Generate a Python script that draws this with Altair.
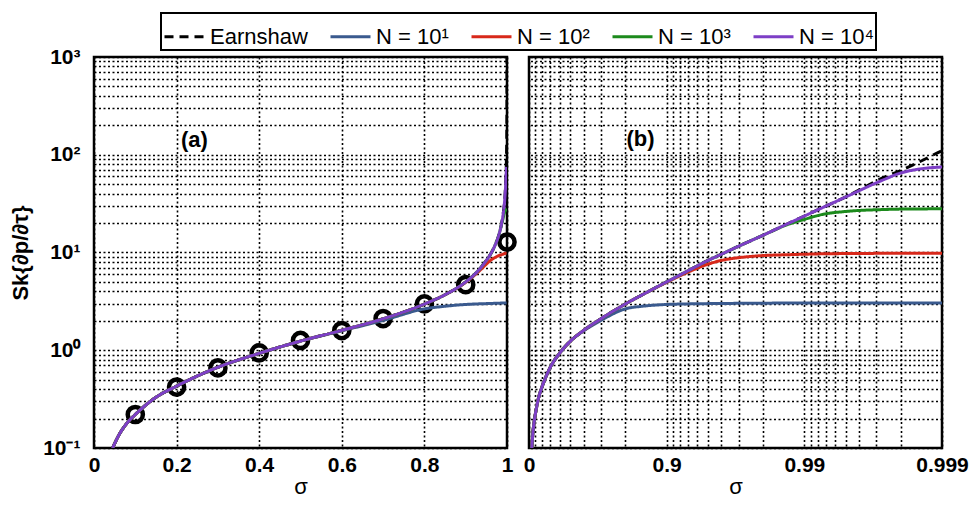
import altair as alt
import pandas as pd

# ---------------- data ----------------
series_names = ["Earnshaw", "N = 10¹", "N = 10²", "N = 10³", "N = 10⁴"]
series_colors = ["#000000", "#3a5a8e", "#d8281a", "#1c8a1c", "#7d3fc6"]

sigma_e = [0.045, 0.06, 0.08, 0.1, 0.15, 0.2, 0.3, 0.4, 0.5, 0.6, 0.7, 0.8, 0.85, 0.9,
           0.93, 0.95, 0.96, 0.97, 0.98, 0.987, 0.99, 0.9926, 0.995, 0.9973, 0.998,
           0.9985, 0.999, 0.9995, 0.9999, 0.99999]
earnshaw = [0.1, 0.135, 0.18, 0.22, 0.33, 0.43, 0.67, 0.93, 1.24, 1.6, 2.1, 2.97, 3.7, 5.0,
            6.5, 8.3, 9.6, 11.6, 15.0, 19.9, 23.6, 28.7, 37, 58, 69,
            83, 110, 160, 360, 1150]

sigma_n = [0.045, 0.06, 0.08, 0.1, 0.15, 0.2, 0.3, 0.4, 0.5, 0.6, 0.7, 0.8, 0.85, 0.9,
           0.93, 0.95, 0.96, 0.97, 0.98, 0.987, 0.99, 0.9926, 0.995, 0.9973, 0.998,
           0.9985, 0.999]
n1 = [0.1, 0.135, 0.18, 0.22, 0.33, 0.43, 0.67, 0.93, 1.24, 1.58, 2.02, 2.65, 2.82, 2.94,
      2.98, 3.0, 3.01, 3.02, 3.03, 3.04, 3.04, 3.04, 3.04, 3.04, 3.04,
      3.04, 3.04]
n2 = [0.1, 0.135, 0.18, 0.22, 0.33, 0.43, 0.67, 0.93, 1.24, 1.6, 2.1, 2.97, 3.7, 4.95,
      6.3, 7.6, 8.3, 8.85, 9.3, 9.5, 9.6, 9.7, 9.75, 9.8, 9.8,
      9.8, 9.8]
n3 = [0.1, 0.135, 0.18, 0.22, 0.33, 0.43, 0.67, 0.93, 1.24, 1.6, 2.1, 2.97, 3.7, 5.0,
      6.5, 8.3, 9.6, 11.6, 15.0, 19.5, 21.8, 24.5, 26.3, 27.5, 27.8,
      27.9, 28.0]
n4 = [0.1, 0.135, 0.18, 0.22, 0.33, 0.43, 0.67, 0.93, 1.24, 1.6, 2.1, 2.97, 3.7, 5.0,
      6.5, 8.3, 9.6, 11.6, 15.0, 19.9, 23.6, 28.7, 37, 55, 65,
      71, 75]

marker_sigma = [0.1, 0.2, 0.3, 0.4, 0.5, 0.6, 0.7, 0.8, 0.9, 1.0]
marker_value = [0.22, 0.42, 0.66, 0.94, 1.26, 1.59, 2.11, 2.98, 4.69, 12.8]

panel_labels = ["(a)", "(b)"]
label_sigma = [0.243, 0.845]
label_value = [142, 145]

y_tick_values = [m * 10.0 ** k for k in range(-1, 3) for m in range(1, 10)] + [1000.0]
ax_tick_values = [0, 0.2, 0.4, 0.6, 0.8, 1.0]
bx_tick_values = [1.0] + [m * 10.0 ** -k for k in range(1, 4) for m in range(9, 0, -1)]

# ---------------- build tables ----------------
rows = []
for name, sig, vals in [(series_names[0], sigma_e, earnshaw),
                        (series_names[1], sigma_n, n1),
                        (series_names[2], sigma_n, n2),
                        (series_names[3], sigma_n, n3),
                        (series_names[4], sigma_n, n4)]:
    for s, v in zip(sig, vals):
        rows.append({"series": name, "sigma": s, "om": 1 - s, "val": v})
df = pd.DataFrame(rows)
markers = pd.DataFrame({"sigma": marker_sigma, "val": marker_value})
labels = pd.DataFrame({"txt": panel_labels, "sigma": label_sigma,
                       "om": [1 - s for s in label_sigma], "val": label_value})

FONT = "Liberation Sans"
W, H = 413, 391

y_label_expr = ("datum.value == 1000 ? '10³' : datum.value == 100 ? '10²' : "
                "datum.value == 10 ? '10¹' : datum.value == 1 ? '10⁰' : "
                "datum.value == 0.1 ? '10⁻¹' : ''")

yscale = alt.Scale(type="log", domain=[0.1, 1000])
color_scale = alt.Scale(domain=series_names, range=series_colors)
dash_scale = alt.Scale(domain=series_names, range=[[9, 6], [1, 0], [1, 0], [1, 0], [1, 0]])

legend = alt.Legend(orient="none", legendX=67, legendY=-44, direction="horizontal",
                    columns=5, title=None, symbolType="stroke", symbolStrokeWidth=3,
                    symbolSize=1600, labelFont=FONT, labelFontSize=22,
                    labelColor="black", columnPadding=16, labelOffset=4,
                    padding=2, strokeColor="black", fillColor="white")

y_axis_a = alt.Axis(values=y_tick_values, labelExpr=y_label_expr, title="Sk{∂p/∂τ}",
                    titleFont=FONT, titleFontSize=22, titleFontWeight="bold",
                    titleColor="black", titlePadding=10,
                    labelFont=FONT, labelFontSize=21, labelFontWeight="bold",
                    labelColor="black", ticks=False, labelPadding=14, domain=False,
                    grid=True, labelBound=False, labelOverlap=False)
y_axis_b = alt.Axis(values=y_tick_values, labels=False, ticks=False, domain=False,
                    title=None, grid=True, minExtent=0)

x_axis_a = alt.Axis(values=ax_tick_values, format="~g", title="σ",
                    titleFont=FONT, titleFontSize=22, titleFontWeight="normal",
                    titleColor="black", titlePadding=1,
                    labelFont=FONT, labelFontSize=21, labelFontWeight="bold",
                    labelColor="black", ticks=False, labelPadding=6, domain=False,
                    grid=True, labelOverlap=False, labelFlush=False)
x_axis_b = alt.Axis(values=bx_tick_values,
                    labelExpr="datum.value == 1 ? '0' : datum.value == 0.1 ? '0.9' : "
                              "datum.value == 0.01 ? '0.99' : datum.value == 0.001 ? '0.999' : ''",
                    title="σ", titleFont=FONT, titleFontSize=22, titleFontWeight="normal",
                    titleColor="black", titlePadding=1,
                    labelFont=FONT, labelFontSize=21, labelFontWeight="bold",
                    labelColor="black", ticks=False, labelPadding=6, domain=False,
                    grid=True, labelOverlap=False, labelFlush=False)

# ---------------- panel (a) ----------------
lines_a = alt.Chart(df).mark_line(strokeWidth=3, clip=True, interpolate="monotone").encode(
    x=alt.X("sigma:Q", scale=alt.Scale(domain=[0, 1], nice=False), axis=x_axis_a),
    y=alt.Y("val:Q", scale=yscale, axis=y_axis_a),
    color=alt.Color("series:N", scale=color_scale, legend=legend),
    strokeDash=alt.StrokeDash("series:N", scale=dash_scale, legend=legend),
    order=alt.Order("sigma:Q"),
)
pts_a = alt.Chart(markers).mark_point(shape="circle", size=230, strokeWidth=4.5,
                                      color="black", filled=False, opacity=1).encode(
    x="sigma:Q", y="val:Q")
txt_a = alt.Chart(labels.iloc[[0]]).mark_text(font=FONT, fontSize=22, fontWeight="bold",
                                              color="black").encode(
    x="sigma:Q", y="val:Q", text="txt:N")
panel_a = alt.layer(pts_a, lines_a, txt_a).properties(width=W, height=H)

# ---------------- panel (b) ----------------
lines_b = alt.Chart(df).mark_line(strokeWidth=3, clip=True, interpolate="monotone").encode(
    x=alt.X("om:Q", scale=alt.Scale(type="log", domain=[0.001, 1], reverse=True, nice=False),
            axis=x_axis_b),
    y=alt.Y("val:Q", scale=yscale, axis=y_axis_b),
    color=alt.Color("series:N", scale=color_scale, legend=legend),
    strokeDash=alt.StrokeDash("series:N", scale=dash_scale, legend=legend),
    order=alt.Order("sigma:Q"),
)
txt_b = alt.Chart(labels.iloc[[1]]).mark_text(font=FONT, fontSize=22, fontWeight="bold",
                                              color="black").encode(
    x="om:Q", y="val:Q", text="txt:N")
panel_b = alt.layer(lines_b, txt_b).properties(width=W, height=H)

chart = alt.hconcat(panel_a, panel_b, spacing=22, bounds="flush").resolve_scale(
    x="independent"
).configure_view(
    stroke="black", strokeWidth=2.5
).configure_axis(
    gridColor="black", gridDash=[2, 2.5], gridWidth=1.6, gridOpacity=1
).configure_legend(
    strokeWidth=2
).properties(
    background="white",
    padding={"left": 0, "top": 4, "right": 0, "bottom": 0},
)

chart.save("out.html", embed_options={"renderer": "svg", "actions": False})
